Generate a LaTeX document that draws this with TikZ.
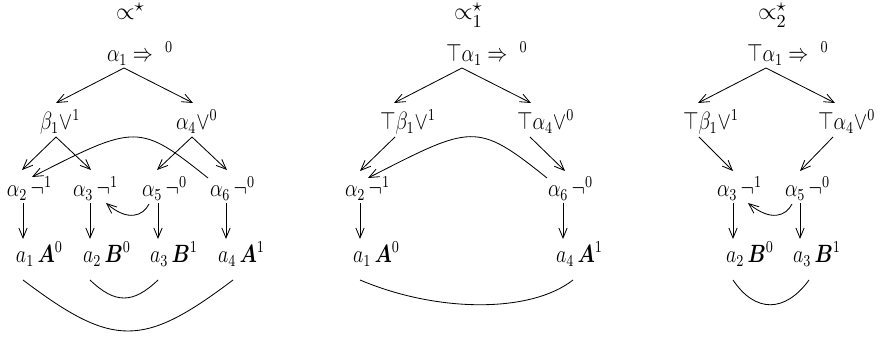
\documentclass[tikz,border=0pt]{standalone}
\usepackage{amsmath,amssymb}
\usepackage{graphicx}
\usetikzlibrary{arrows.meta,calc}
\newcommand{\tallt}[1]{\scalebox{1}[1.25]{#1}}
\begin{document}
\begin{tikzpicture}[x=0.6pt,y=-0.6pt,
  lbl/.style={anchor=base west,inner sep=0pt,outer sep=0pt,font=\fontsize{12}{14}\selectfont},
  ttl/.style={anchor=base west,inner sep=0pt,outer sep=0pt,font=\fontsize{15}{18}\selectfont},
  arr/.style={-{Straight Barb[length=6pt,width=5pt]},line width=0.5pt},
  link/.style={line width=0.5pt}]
\useasboundingbox (0,0) rectangle (880,338);
% ---------------- panel 1 ----------------
\node[ttl] (t1) at (116,20) {$\propto^{\star}$};
\node[lbl] (r1) at (107,62) {\tallt{$\alpha_1 \Rightarrow\,\,{}^{0}$}};
\node[lbl] (r2a) at (40,130) {\tallt{$\beta_1{\vee}^{1}$}};
\node[lbl] (r2b) at (176,130) {\tallt{$\alpha_4{\vee}^{0}$}};
\node[lbl] (r3a) at (7,197) {\tallt{$\alpha_2\,\neg^{1}$}};
\node[lbl] (r3b) at (73,197) {\tallt{$\alpha_3\,\neg^{1}$}};
\node[lbl] (r3c) at (142,197) {\tallt{$\alpha_5\,\neg^{0}$}};
\node[lbl] (r3d) at (210,197) {\tallt{$\alpha_6\,\neg^{0}$}};
\node[lbl] (r4a) at (16,263) {\tallt{$a_1\,\boldsymbol{A}^{0}$}};
\node[lbl] (r4b) at (83,263) {\tallt{$a_2\,\boldsymbol{B}^{0}$}};
\node[lbl] (r4c) at (150,263) {\tallt{$a_3\,\boldsymbol{B}^{1}$}};
\node[lbl] (r4d) at (218,263) {\tallt{$a_4\,\boldsymbol{A}^{1}$}};
\draw[arr] ($(r1.base west)+(17,6)$) -- ($(r2a.base west)+(16,-27)$);
\draw[arr] ($(r1.base west)+(17,6)$) -- ($(r2b.base west)+(17,-27)$);
\draw[arr] ($(r2a.base west)+(16,7)$) -- ($(r3a.base west)+(15,-27)$);
\draw[arr] ($(r2a.base west)+(16,7)$) -- ($(r3b.base west)+(18,-27)$);
\draw[arr] ($(r2b.base west)+(16,7)$) -- ($(r3c.base west)+(15,-27)$);
\draw[arr] ($(r2b.base west)+(16,7)$) -- ($(r3d.base west)+(17,-27)$);
\draw[arr] ($(r3a.base west)+(16,6)$) -- ($(r4a.base west)+(7,-24)$);
\draw[arr] ($(r3b.base west)+(17,6)$) -- ($(r4b.base west)+(7,-24)$);
\draw[arr] ($(r3c.base west)+(16,6)$) -- ($(r4c.base west)+(8,-24)$);
\draw[arr] ($(r3d.base west)+(16,6)$) -- ($(r4d.base west)+(8,-24)$);
\draw[arr] ($(r3d.base west)+(-2,-19)$) .. controls (139,123) and (136,124) .. ($(r3a.base west)+(25,-20)$);
\draw[arr] ($(r3c.base west)+(7,7)$) .. controls (143,216) and (128,222) .. ($(r3b.base west)+(33,6)$);
\draw[link] ($(r4a.base west)+(7,17)$) .. controls (113,348) and (143,348) .. ($(r4d.base west)+(15,17)$);
\draw[link] ($(r4b.base west)+(7,17)$) .. controls (115,304) and (133,304) .. ($(r4c.base west)+(8,17)$);
% ---------------- panel 2 ----------------
\node[ttl] (t2) at (454,20) {$\propto^{\star}_{1}$};
\node[lbl] (q1) at (446,62) {\tallt{$\top\alpha_1 \Rightarrow\,\,{}^{0}$}};
\node[lbl] (q2a) at (380,130) {\tallt{$\top\beta_1{\vee}^{1}$}};
\node[lbl] (q2b) at (517,130) {\tallt{$\top\alpha_4{\vee}^{0}$}};
\node[lbl] (q3a) at (345,197) {\tallt{$\alpha_2\,\neg^{1}$}};
\node[lbl] (q3d) at (548,197) {\tallt{$\alpha_6\,\neg^{0}$}};
\node[lbl] (q4a) at (353,263) {\tallt{$a_1\,\boldsymbol{A}^{0}$}};
\node[lbl] (q4d) at (556,263) {\tallt{$a_4\,\boldsymbol{A}^{1}$}};
\draw[arr] ($(q1.base west)+(16,6)$) -- ($(q2a.base west)+(14,-27)$);
\draw[arr] ($(q1.base west)+(16,6)$) -- ($(q2b.base west)+(14,-27)$);
\draw[arr] ($(q2a.base west)+(15,7)$) -- ($(q3a.base west)+(15,-26)$);
\draw[arr] ($(q2b.base west)+(13,7)$) -- ($(q3d.base west)+(17,-26)$);
\draw[arr] ($(q3a.base west)+(15,6)$) -- ($(q4a.base west)+(7,-24)$);
\draw[arr] ($(q3d.base west)+(15,6)$) -- ($(q4d.base west)+(7,-24)$);
\draw[arr] ($(q3d.base west)+(-1,-19)$) .. controls (476,121) and (472,125) .. ($(q3a.base west)+(23,-19)$);
\draw[link] ($(q4a.base west)+(7,17)$) .. controls (438,313) and (531,313) .. ($(q4d.base west)+(17,17)$);
% ---------------- panel 3 ----------------
\node[ttl] (t3) at (758,20) {$\propto^{\star}_{2}$};
\node[lbl] (s1) at (747,62) {\tallt{$\top\alpha_1 \Rightarrow\,\,{}^{0}$}};
\node[lbl] (s2a) at (683,130) {\tallt{$\top\beta_1{\vee}^{1}$}};
\node[lbl] (s2b) at (818,130) {\tallt{$\top\alpha_4{\vee}^{0}$}};
\node[lbl] (s3b) at (717,197) {\tallt{$\alpha_3\,\neg^{1}$}};
\node[lbl] (s3c) at (785,197) {\tallt{$\alpha_5\,\neg^{0}$}};
\node[lbl] (s4b) at (726,263) {\tallt{$a_2\,\boldsymbol{B}^{0}$}};
\node[lbl] (s4c) at (793,263) {\tallt{$a_3\,\boldsymbol{B}^{1}$}};
\draw[arr] ($(s1.base west)+(19,6)$) -- ($(s2a.base west)+(15,-27)$);
\draw[arr] ($(s1.base west)+(19,6)$) -- ($(s2b.base west)+(17,-27)$);
\draw[arr] ($(s2a.base west)+(16,7)$) -- ($(s3b.base west)+(16,-26)$);
\draw[arr] ($(s2b.base west)+(15,7)$) -- ($(s3c.base west)+(15,-26)$);
\draw[arr] ($(s3b.base west)+(16,6)$) -- ($(s4b.base west)+(7,-24)$);
\draw[arr] ($(s3c.base west)+(15,6)$) -- ($(s4c.base west)+(7,-24)$);
\draw[arr] ($(s3c.base west)+(7,7)$) .. controls (786,216) and (771,222) .. ($(s3b.base west)+(31,6)$);
\draw[link] ($(s4b.base west)+(7,17)$) .. controls (755,313) and (785,313) .. ($(s4c.base west)+(16,17)$);
\end{tikzpicture}
\end{document}
